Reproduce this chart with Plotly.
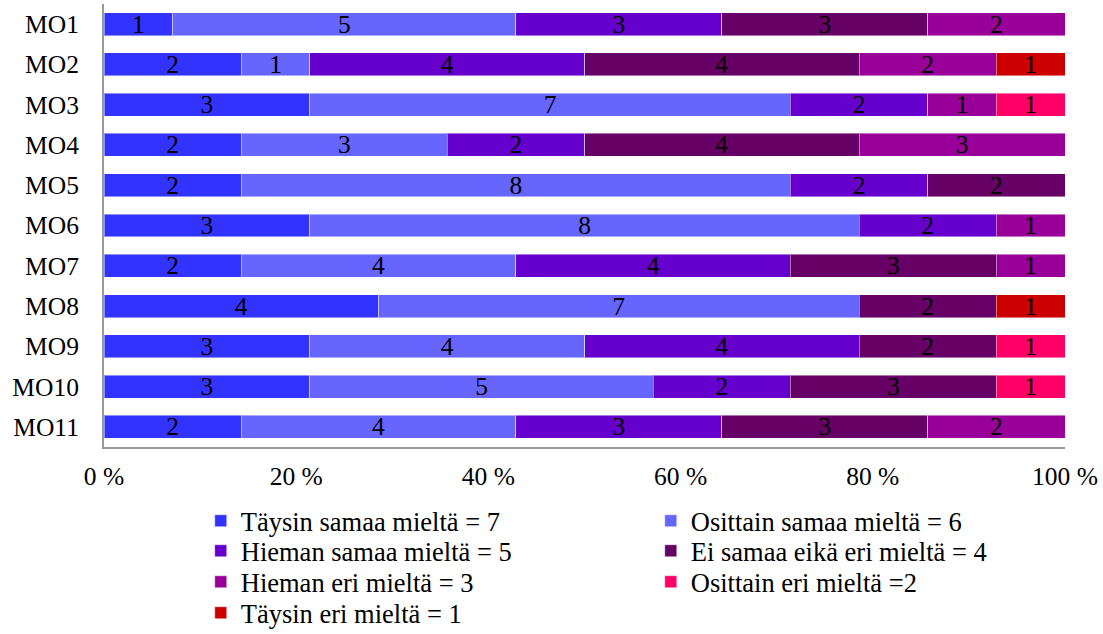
import plotly.graph_objects as go

# Survey statements (rows) and response counts per answer option
statements = ["MO1", "MO2", "MO3", "MO4", "MO5", "MO6", "MO7", "MO8", "MO9", "MO10", "MO11"]

taysin_samaa = [1, 2, 3, 2, 2, 3, 2, 4, 3, 3, 2]
osittain_samaa = [5, 1, 7, 3, 8, 8, 4, 7, 4, 5, 4]
hieman_samaa = [3, 4, 2, 2, 2, 2, 4, None, 4, 2, 3]
ei_samaa_eika_eri = [3, 4, None, 4, 2, None, 3, 2, 2, 3, 3]
hieman_eri = [2, 2, 1, 3, None, 1, 1, None, None, None, 2]
osittain_eri = [None, None, 1, None, None, None, None, None, 1, 1, None]
taysin_eri = [None, 1, None, None, None, None, None, 1, None, None, None]

series = [
    ("Täysin samaa mieltä = 7", taysin_samaa, "#3333FF"),
    ("Osittain samaa mieltä = 6", osittain_samaa, "#6666FF"),
    ("Hieman samaa mieltä = 5", hieman_samaa, "#6600CC"),
    ("Ei samaa eikä eri mieltä = 4", ei_samaa_eika_eri, "#660066"),
    ("Hieman eri mieltä = 3", hieman_eri, "#990099"),
    ("Osittain eri mieltä =2", osittain_eri, "#FF0066"),
    ("Täysin eri mieltä = 1", taysin_eri, "#CC0000"),
]

x_ticks = [0, 20, 40, 60, 80, 100]
x_tick_labels = ["0 %", "20 %", "40 %", "60 %", "80 %", "100 %"]

FONT = "Times New Roman, Liberation Serif, DejaVu Serif, serif"
FS = 25.5
LEGEND_FS = 26.5

# legend grid below the chart: two columns, four rows (container coordinates)
legend_cols = [0.182, 0.590]
legend_rows = [0.1782, 0.1309, 0.0820, 0.0331]

fig = go.Figure()
layout_legends = {}
for i, (name, values, color) in enumerate(series):
    key = "legend" if i == 0 else f"legend{i + 1}"
    fig.add_trace(go.Bar(
        name=name,
        y=statements,
        x=values,
        orientation="h",
        marker=dict(color=color, line=dict(color="rgba(255,255,255,0.45)", width=1)),
        text=["" if v is None else str(v) for v in values],
        textposition="inside",
        insidetextanchor="middle",
        textangle=0,
        constraintext="none",
        textfont=dict(family=FONT, size=FS, color="black"),
        hoverinfo="skip",
        legend=key,
    ))
    layout_legends[key] = dict(
        xref="container",
        yref="container",
        x=legend_cols[i % 2],
        xanchor="left",
        y=legend_rows[i // 2],
        yanchor="middle",
        font=dict(family=FONT, size=LEGEND_FS, color="black"),
        bgcolor="rgba(0,0,0,0)",
        itemclick=False,
        itemdoubleclick=False,
    )

fig.update_layout(
    barmode="stack",
    barnorm="percent",
    bargap=0.43,
    width=1103,
    height=634,
    margin=dict(l=104, r=38, t=4, b=187, autoexpand=False),
    paper_bgcolor="white",
    plot_bgcolor="white",
    font=dict(family=FONT, size=FS, color="black"),
    xaxis=dict(
        range=[0, 100],
        tickvals=x_ticks,
        ticktext=x_tick_labels,
        showgrid=False,
        zeroline=False,
        showline=True,
        linecolor="#999999",
        linewidth=2,
        ticks="",
        tickfont=dict(family=FONT, size=FS),
        ticklabelstandoff=5,
    ),
    yaxis=dict(
        autorange="reversed",
        showgrid=False,
        showline=True,
        linecolor="#999999",
        linewidth=2,
        ticks="",
        tickfont=dict(family=FONT, size=FS),
        ticklabelstandoff=18,
    ),
    showlegend=True,
    **layout_legends,
)

fig.write_html("out.html")
